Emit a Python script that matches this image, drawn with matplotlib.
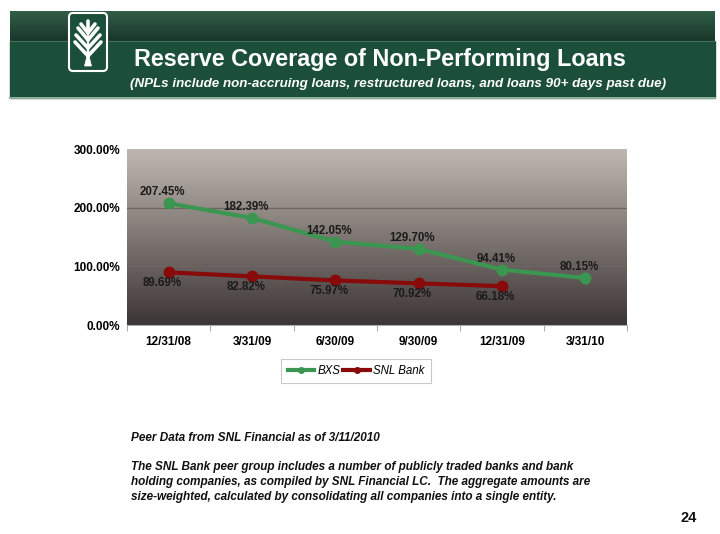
import matplotlib
matplotlib.use("Agg")
import matplotlib.pyplot as plt
import numpy as np
from matplotlib.patches import Rectangle, FancyBboxPatch, Polygon
from matplotlib.lines import Line2D

plt.rcParams['font.family'] = ['Liberation Sans', 'DejaVu Sans']

categories = ["12/31/08", "3/31/09", "6/30/09", "9/30/09", "12/31/09", "3/31/10"]
bxs = [207.45, 182.39, 142.05, 129.70, 94.41, 80.15]
snl = [89.69, 82.82, 75.97, 70.92, 66.18]
yticks = [0, 100, 200, 300]

W, H = 720, 534
fig = plt.figure(figsize=(W/100, H/100), dpi=100)
fig.patch.set_facecolor("white")

# background/decor axes in pixel coordinates
bg = fig.add_axes([0, 0, 1, 1])
bg.set_xlim(0, W); bg.set_ylim(H, 0); bg.axis("off")

# header band
grad = np.linspace(0, 1, 64).reshape(-1, 1)
top_c = np.array([0x30, 0x5e, 0x47]) / 255
bot_c = np.array([0x1a, 0x36, 0x29]) / 255
img = top_c + (bot_c - top_c) * grad
bg.imshow(img.reshape(64, 1, 3), extent=(10, 715, 41, 11), aspect="auto", zorder=1)
bg.add_patch(Rectangle((10, 41), 705, 57, color="#1c4f3a", zorder=1))
bg.plot([10, 715], [41, 41], color="#4d7a63", lw=0.6, zorder=2)
bg.plot([10, 715], [98, 98], color="#8fb09f", lw=1.4, zorder=2)

# logo
bg.add_patch(FancyBboxPatch((69, 13), 38, 58, boxstyle="round,pad=0,rounding_size=4",
                            fc="#1c4f3a", ec="white", lw=1.5, zorder=3))
cx = 88
bg.add_patch(Polygon([(84.5, 66), (91.5, 66), (89, 56), (88.6, 28), (87.4, 28), (87, 56)],
                     closed=True, fc="white", ec="white", lw=0.5, zorder=4))
for y0, dx, dy in [(56, 13, 14), (48, 12, 13), (40, 10, 12), (33, 7, 9)]:
    bg.plot([cx, cx - dx], [y0, y0 - dy], color="white", lw=2.6, zorder=4, solid_capstyle="round")
    bg.plot([cx, cx + dx], [y0, y0 - dy], color="white", lw=2.6, zorder=4, solid_capstyle="round")
bg.plot([cx, cx], [30, 21], color="white", lw=2.6, zorder=4, solid_capstyle="round")

bg.text(134, 59.5, "Reserve Coverage of Non-Performing Loans", color="white",
        fontsize=16.8, fontweight="bold", va="center", ha="left", zorder=5)
bg.text(130, 84, "(NPLs include non-accruing loans, restructured loans, and loans 90+ days past due)",
        color="white", fontsize=9.6, fontweight="bold", style="italic", va="center", ha="left", zorder=5)

# footer text
bg.text(131, 438, "Peer Data from SNL Financial as of 3/11/2010", fontsize=8.45,
        fontweight="bold", style="italic", va="center", ha="left", color="#111111")
para = ("The SNL Bank peer group includes a number of publicly traded banks and bank\n"
        "holding companies, as compiled by SNL Financial LC.  The aggregate amounts are\n"
        "size-weighted, calculated by consolidating all companies into a single entity.")
bg.text(131, 482, para, fontsize=8.45, fontweight="bold", style="italic", va="center",
        ha="left", color="#111111", linespacing=1.35)
bg.text(689, 518, "24", fontsize=10.5, fontweight="bold", va="center", ha="center", color="#111111")

# chart axes
ax = fig.add_axes([127/W, 1 - 325/H, 500/W, 176/H])
x = np.arange(len(categories))
ax.set_xlim(-0.5, len(categories) - 0.5)
ax.set_ylim(0, 300)

g = np.linspace(0, 1, 256).reshape(-1, 1)
c_top = np.array([0xbf, 0xb8, 0xb0]) / 255
c_bot = np.array([0x3c, 0x35, 0x35]) / 255
gimg = c_top + (c_bot - c_top) * g
ax.imshow(gimg.reshape(256, 1, 3), extent=(-0.5, len(categories) - 0.5, 0, 300),
          aspect="auto", zorder=0)

for yv in [100, 200]:
    ax.axhline(yv, color="#6e6560", lw=0.9, zorder=1)

ax.plot(x, bxs, color="#3a9650", lw=3, marker="o", ms=7.5, zorder=3)
ax.plot(x[:len(snl)], snl, color="#880a0a", lw=3, marker="o", ms=7.5, zorder=3)

for xi, v in zip(x, bxs):
    ax.annotate(f"{v:.2f}%", (xi, v), xytext=(-4.5, 3.5), textcoords="offset points",
                ha="center", va="bottom", fontsize=8.3, fontweight="bold", color="#1a1a1a")
for xi, v in zip(x, snl):
    ax.annotate(f"{v:.2f}%", (xi, v), xytext=(-4.5, -3.5), textcoords="offset points",
                ha="center", va="top", fontsize=8.3, fontweight="bold", color="#1a1a1a")

ax.set_yticks(yticks)
ax.set_yticklabels([f"{t:.2f}%" for t in yticks], fontsize=8.5, fontweight="bold")
ax.set_xticks(x)
ax.set_xticklabels(categories, fontsize=8.5, fontweight="bold")
ax.set_xticks(np.arange(-0.5, len(categories)), minor=True)
ax.tick_params(axis="x", which="major", length=0, pad=8)
ax.tick_params(axis="x", which="minor", length=4, color="#999999", direction="out")
ax.tick_params(axis="y", length=0, pad=5)
for s in ["top", "right", "left"]:
    ax.spines[s].set_visible(False)
ax.spines["bottom"].set_color("#aaaaaa")

handles = [Line2D([], [], color="#3a9650", lw=3, marker="o", ms=4),
           Line2D([], [], color="#880a0a", lw=3, marker="o", ms=4)]
leg = fig.legend(handles, ["BXS", "SNL Bank"], loc="center", bbox_to_anchor=(356/W, 1 - 371/H),
                 ncol=2, frameon=True, fancybox=False, edgecolor="#bbbbbb",
                 prop={"style": "italic", "size": 8.3}, handlelength=2.3, handletextpad=0.25,
                 columnspacing=0.3, borderpad=0.55, borderaxespad=0)
leg.get_frame().set_linewidth(0.8)

fig.savefig("out.png", dpi=100)
